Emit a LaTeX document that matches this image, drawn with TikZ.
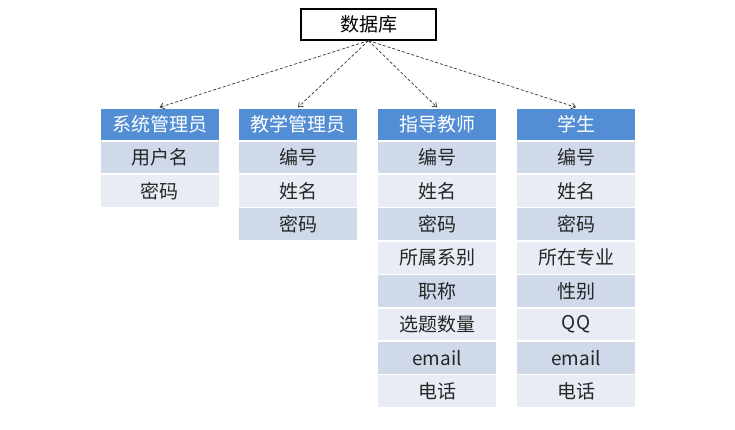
\documentclass[tikz,border=0pt]{standalone}
\usepackage{fontspec}
\usepackage{xcolor}
\usetikzlibrary{arrows.meta,positioning}
\newfontfamily\cjk{Noto Sans CJK SC}
\definecolor{hdblue}{RGB}{83,142,213}
\definecolor{rowdark}{RGB}{207,217,234}
\definecolor{rowlight}{RGB}{232,237,245}

\begin{document}
\begin{tikzpicture}[
  x=1pt, y=-1pt,
  font=\cjk\fontsize{19}{21}\selectfont, node distance=1.2pt,
  hd/.style={fill=hdblue, text=white, minimum width=118pt, minimum height=31pt, inner sep=0pt},
  ra/.style={fill=rowdark, text=black!85, minimum width=118pt, minimum height=31.8pt, inner sep=0pt},
  rb/.style={ra, fill=rowlight},
  dbbox/.style={draw, line width=1.3pt, minimum width=135pt, minimum height=31pt, inner sep=0pt},
  lk/.style={densely dashed, black!80, line width=0.7pt, -{Straight Barb[length=4pt,width=6pt]}}
]
\useasboundingbox (0,0) rectangle (735,429);
\node[dbbox] (db) at (368.5,24.5) {数据库};

% column heads
\node[hd] (sys) at (159.5,124.5) {系统管理员};
\node[hd] (jx) at (298,124.5) {教学管理员};
\node[hd] (ds) at (437,124.5) {指导教师};
\node[hd] (xs) at (576,124.5) {学生};

% 系统管理员
\node[ra, below=of sys] (sys1) {用户名};
\node[rb, below=of sys1] (sys2) {密码};

% 教学管理员
\node[ra, below=of jx] (jx1) {编号};
\node[rb, below=of jx1] (jx2) {姓名};
\node[ra, below=of jx2] (jx3) {密码};

% 指导教师
\node[ra, below=of ds] (ds1) {编号};
\node[rb, below=of ds1] (ds2) {姓名};
\node[ra, below=of ds2] (ds3) {密码};
\node[rb, below=of ds3] (ds4) {所属系别};
\node[ra, below=of ds4] (ds5) {职称};
\node[rb, below=of ds5] (ds6) {选题数量};
\node[ra, below=of ds6] (ds7) {email};
\node[rb, below=of ds7] (ds8) {电话};

% 学生
\node[ra, below=of xs] (xs1) {编号};
\node[rb, below=of xs1] (xs2) {姓名};
\node[ra, below=of xs2] (xs3) {密码};
\node[rb, below=of xs3] (xs4) {所在专业};
\node[ra, below=of xs4] (xs5) {性别};
\node[rb, below=of xs5] (xs6) {QQ};
\node[ra, below=of xs6] (xs7) {email};
\node[rb, below=of xs7] (xs8) {电话};

\draw[lk] (db.south) -- ([yshift=1.5pt]sys.north);
\draw[lk] (db.south) -- ([yshift=1.5pt]jx.north);
\draw[lk] (db.south) -- ([yshift=1.5pt]ds.north);
\draw[lk] (db.south) -- ([yshift=1.5pt]xs.north);
\end{tikzpicture}
\end{document}
